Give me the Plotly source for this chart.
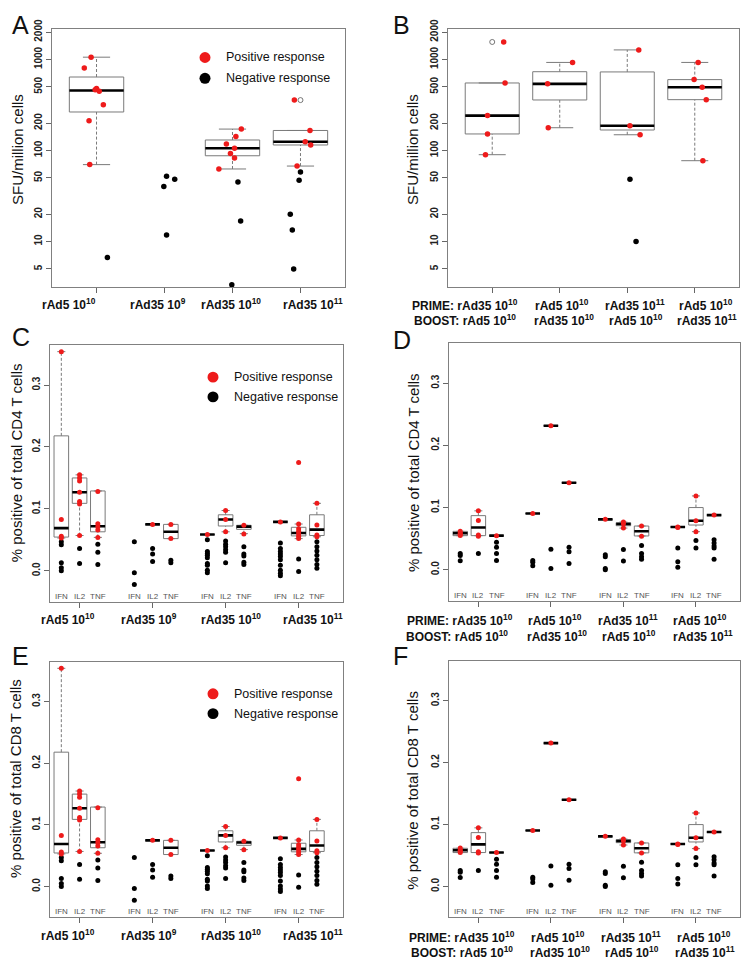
import plotly.graph_objects as go

W, H = 743, 959
RED = "#ee1b1b"
BLK = "#000000"
BOXC = "#7a7a7a"
FONT = "Liberation Sans, Arial, sans-serif"

# ---------------- Panel A : SFU, single immunisation ----------------
A_pos = [[1060, 804, 480, 466, 449, 318, 212, 70], [],
         [172, 143, 118, 106, 92.7, 82.6, 62.7], [358, 166, 125, 115, 67.5]]
A_pos_jit = [[-0.08, -0.18, 0.0, -0.02, 0.04, 0.10, -0.11, -0.10], [],
             [0.13, 0.05, -0.09, 0.03, -0.03, 0.03, -0.20], [-0.09, 0.14, 0.07, 0.15, -0.05]]
A_neg = [[6.7], [52, 48.4, 40.3, 11.8], [45.2, 16.8, 3.35], [58, 47.2, 20, 13.4, 5.0]]
A_neg_jit = [[0.16], [0.03, 0.15, -0.01, 0.03], [0.08, 0.12, -0.01], [0.0, -0.02, -0.15, -0.12, -0.10]]
# whisker low, Q1, median, Q3, whisker high
A_box = [[70, 265, 457, 642, 1060], None, [62.7, 87.6, 106, 130.5, 172], [67.5, 115, 125, 166, 166]]
A_out = [[], [], [], [358]]
A_labels = ["rAd5 10<sup>10</sup>", "rAd35 10<sup>9</sup>", "rAd35 10<sup>10</sup>", "rAd35 10<sup>11</sup>"]

# ---------------- Panel B : SFU, prime/boost ----------------
B_pos = [[1557, 552, 242, 152, 90], [928, 540, 178], [1274, 187, 149], [928, 601, 496, 362, 77.3]]
B_pos_jit = [[0.17, 0.19, -0.07, -0.07, -0.10], [0.19, -0.18, -0.17], [0.17, 0.04, 0.19],
             [0.05, -0.01, 0.11, 0.17, 0.12]]
B_neg = [[], [], [48.4, 10], []]
B_neg_jit = [[], [], [0.04, 0.13], []]
B_box = [[90, 152, 242, 552, 552], [178, 359, 540, 734, 928], [149, 168, 187, 730, 1274],
         [77.3, 362, 496, 601, 928]]
B_out = [[1557], [], [], []]
B_line1 = ["PRIME: rAd35 10<sup>10</sup>", "rAd5 10<sup>10</sup>", "rAd35 10<sup>11</sup>", "rAd5 10<sup>10</sup>"]
B_line2 = ["BOOST: rAd5 10<sup>10</sup>", "rAd35 10<sup>10</sup>", "rAd5 10<sup>10</sup>", "rAd35 10<sup>11</sup>"]

SFU_ticks = [5, 10, 20, 50, 100, 200, 500, 1000, 2000]

# ---------------- Panels C / E : ICS, single immunisation ----------------
cytokines = ["IFN", "IL2", "TNF"]
C_box = [[0.053, 0.0545, 0.069, 0.218, 0.354], [0.057, 0.109, 0.127, 0.150, 0.155],
         [0.054, 0.063, 0.072, 0.129, 0.129],
         None, [0.075, 0.075, 0.075, 0.075, 0.075], [0.052, 0.052, 0.063, 0.075, 0.075],
         [0.0586, 0.0586, 0.0586, 0.0586, 0.0586], [0.063, 0.0724, 0.083, 0.0905, 0.0974],
         [0.060, 0.067, 0.0714, 0.0735, 0.0735],
         [0.079, 0.079, 0.079, 0.079, 0.079], [0.052, 0.0564, 0.0612, 0.0703, 0.0756],
         [0.055, 0.057, 0.0666, 0.0905, 0.109]]
C_pos = [[0.354, 0.083, 0.056, 0.053], [0.155, 0.150, 0.145, 0.127, 0.112, 0.108, 0.057],
         [0.128, 0.076, 0.071, 0.066, 0.054],
         [], [0.075], [0.075, 0.052],
         [0.0586], [0.0974, 0.083, 0.063], [0.0735, 0.0596],
         [0.079], [0.175, 0.0756, 0.068, 0.064, 0.060, 0.056, 0.052], [0.109, 0.074, 0.058, 0.055]]
C_neg = [[0.047, 0.042, 0.013, 0.005, 0.0], [0.036, 0.012], [0.043, 0.030, 0.010],
         [0.047, -0.003, -0.022], [0.036, 0.027, 0.015], [0.017, 0.013],
         [0.050, 0.031, 0.028, 0.025, 0.021, 0.012, 0.009, 0.001, -0.003],
         [0.048, 0.043, 0.039, 0.034, 0.030, 0.013], [0.039, 0.027, 0.024, 0.014, 0.010],
         [0.045, 0.036, 0.031, 0.027, 0.023, 0.018, 0.009, 0.001, -0.004, -0.008],
         [0.019, -0.001], [0.047, 0.039, 0.032, 0.025, 0.018, 0.010, 0.004]]
E_box, E_pos, E_neg = C_box, C_pos, C_neg

# ---------------- Panels D / F : ICS, prime/boost ----------------
D_box = [[0.0548, 0.0548, 0.0586, 0.0617, 0.0617], [0.0548, 0.0548, 0.068, 0.087, 0.0947],
         [0.0548, 0.0548, 0.0548, 0.0548, 0.0548],
         [0.0905] * 5, [0.2316] * 5, [0.140] * 5,
         [0.081] * 5, [0.067, 0.0708, 0.0735, 0.0756, 0.0767], [0.0543, 0.0543, 0.0618, 0.0703, 0.0703],
         [0.0687] * 5, [0.0612, 0.0719, 0.0788, 0.100, 0.1187], [0.0879] * 5]
D_pos = [[0.062, 0.059, 0.057, 0.055], [0.0947, 0.079, 0.056, 0.054], [0.0548],
         [0.0905], [0.2316], [0.140],
         [0.081], [0.0767, 0.074, 0.067], [0.0703, 0.054],
         [0.0687, 0.068], [0.1187, 0.0788, 0.0612], [0.0879]]
D_neg = [[0.026, 0.023, 0.0145], [0.026], [0.044, 0.036, 0.026, 0.015],
         [0.015, 0.012, 0.0065], [0.033, 0.002], [0.036, 0.029, 0.010],
         [0.024, 0.021, 0.002, 0.0], [0.0325, 0.014], [0.039, 0.026, 0.021, 0.017],
         [0.035, 0.013, 0.004], [0.047, 0.035], [0.048, 0.043, 0.038, 0.035, 0.017]]
F_box, F_pos, F_neg = D_box, D_pos, D_neg

ICS_ticks = [0.0, 0.1, 0.2, 0.3]

fig = go.Figure()


def add_boxes(ax, positions, boxes, hw, sw, outs=None):
    xa = "x" if ax == 1 else f"x{ax}"
    ya = "y" if ax == 1 else f"y{ax}"
    bx, by, mx, my, wx, wy, sx, sy, ox, oy = [], [], [], [], [], [], [], [], [], []
    for p, b in zip(positions, boxes):
        if b is None:
            continue
        lo, q1, med, q3, hi = b
        bx += [p - hw, p + hw, p + hw, p - hw, p - hw, None]
        by += [q1, q1, q3, q3, q1, None]
        mx += [p - hw, p + hw, None]
        my += [med, med, None]
        if hi > q3:
            wx += [p, p, None]
            wy += [q3, hi, None]
        if lo < q1:
            wx += [p, p, None]
            wy += [lo, q1, None]
        sx += [p - sw, p + sw, None, p - sw, p + sw, None]
        sy += [hi, hi, None, lo, lo, None]
    if outs:
        for p, o in zip(positions, outs):
            ox += [p] * len(o)
            oy += list(o)
    fig.add_trace(go.Scatter(x=wx, y=wy, mode="lines", xaxis=xa, yaxis=ya,
                             line=dict(color=BOXC, width=1, dash="3px,2px"), hoverinfo="skip"))
    fig.add_trace(go.Scatter(x=sx, y=sy, mode="lines", xaxis=xa, yaxis=ya,
                             line=dict(color=BOXC, width=1), hoverinfo="skip"))
    fig.add_trace(go.Scatter(x=bx, y=by, mode="lines", xaxis=xa, yaxis=ya,
                             line=dict(color=BOXC, width=1), hoverinfo="skip"))
    fig.add_trace(go.Scatter(x=mx, y=my, mode="lines", xaxis=xa, yaxis=ya,
                             line=dict(color=BLK, width=2.6), hoverinfo="skip"))
    if ox:
        fig.add_trace(go.Scatter(x=ox, y=oy, mode="markers", xaxis=xa, yaxis=ya,
                                 marker=dict(symbol="circle-open", size=5, color="#555",
                                             line=dict(width=0.8))))


def add_points(ax, positions, vals, jits, color, size):
    xa = "x" if ax == 1 else f"x{ax}"
    ya = "y" if ax == 1 else f"y{ax}"
    xs, ys = [], []
    for i, (p, v) in enumerate(zip(positions, vals)):
        j = jits[i] if jits else [0] * len(v)
        xs += [p + d for d in j]
        ys += list(v)
    fig.add_trace(go.Scatter(x=xs, y=ys, mode="markers", xaxis=xa, yaxis=ya,
                             marker=dict(color=color, size=size, line=dict(width=0))))


cat_pos = [1, 2, 3, 4]
ics_pos = [4 * g + k + 1 for g in range(4) for k in range(3)]
ics_centers = [4 * g + 2 for g in range(4)]

# A
add_boxes(1, cat_pos, A_box, 0.4, 0.2, A_out)
add_points(1, cat_pos, A_neg, A_neg_jit, BLK, 5.5)
add_points(1, cat_pos, A_pos, A_pos_jit, RED, 5.5)
# B
add_boxes(2, cat_pos, B_box, 0.4, 0.2, B_out)
add_points(2, cat_pos, B_neg, B_neg_jit, BLK, 5.5)
add_points(2, cat_pos, B_pos, B_pos_jit, RED, 5.5)
# C-F
for ax, bx, pv, nv in [(3, C_box, C_pos, C_neg), (4, D_box, D_pos, D_neg),
                       (5, E_box, E_pos, E_neg), (6, F_box, F_pos, F_neg)]:
    add_boxes(ax, ics_pos, bx, 0.4, 0.22)
    add_points(ax, ics_pos, nv, None, BLK, 5)
    add_points(ax, ics_pos, pv, None, RED, 5)

# ---------- axes ----------
def px_x(v):
    return v / W


def px_y(v):
    return 1 - v / H


domains = {
    1: ((52, 345), (19, 280)),
    2: ((448, 739), (19, 280)),
    3: ((50, 343), (339, 598)),
    4: ((449, 740), (337, 597)),
    5: ((50, 343), (659, 917)),
    6: ((449, 740), (658, 917)),
}
layout_axes = {}
for ax, ((x0, x1), (y0, y1)) in domains.items():
    sfx = "" if ax == 1 else str(ax)
    is_sfu = ax in (1, 2)
    layout_axes[f"xaxis{sfx}"] = dict(
        domain=[px_x(x0), px_x(x1)], anchor=f"y{sfx}",
        range=[0.345, 4.655] if is_sfu else [0.38, 16.43],
        showline=True, mirror=True, linecolor="#808080", linewidth=1,
        ticks="outside", ticklen=5, tickcolor="#666", tickwidth=1,
        tickvals=cat_pos if is_sfu else ics_centers, showticklabels=False,
        showgrid=False, zeroline=False, fixedrange=True)
    yd = dict(
        domain=[px_y(y1), px_y(y0)], anchor=f"x{sfx}",
        showline=True, mirror=True, linecolor="#808080", linewidth=1,
        ticks="outside", ticklen=5, tickcolor="#666", tickwidth=1,
        tickangle=-90, tickfont=dict(family=FONT, size=10, color="#222"),
        showgrid=False, zeroline=False, fixedrange=True)
    if is_sfu:
        yd.update(type="log", range=[0.5, 3.337], tickvals=SFU_ticks,
                  ticktext=[f"<b>{t}</b>" for t in SFU_ticks])
    else:
        yd.update(range=[-0.05, 0.364], tickvals=ICS_ticks,
                  ticktext=[f"<b>{t:.1f}</b>" for t in ICS_ticks])
    layout_axes[f"yaxis{sfx}"] = yd

ann = []


def text(t, x, y, size, xanchor="center", yanchor="middle", angle=0, color="#111"):
    ann.append(dict(text=t, x=px_x(x), y=px_y(y), xref="paper", yref="paper",
                    xanchor=xanchor, yanchor=yanchor, showarrow=False, textangle=angle,
                    font=dict(family=FONT, size=size, color=color)))


# panel letters
for L, x, y in [("A", 10, 15), ("B", 391, 15), ("C", 10, 330), ("D", 391, 333),
                ("E", 10, 653), ("F", 391, 653)]:
    text(L, x, y, 25, xanchor="left")

# y titles
text("SFU/million cells", 17, 141.5, 15, angle=-90)
text("SFU/million cells", 412, 141.5, 15, angle=-90)
text("% positive of total CD4 T cells", 16, 458, 15, angle=-90)
text("% positive of total CD4 T cells", 413, 468, 15, angle=-90)
text("% positive of total CD8 T cells", 16, 777, 15, angle=-90)
text("% positive of total CD8 T cells", 413, 789, 15, angle=-90)

# x labels, single immunisation panels
for xs, y in [([68.8, 158, 230.7, 313.3], 297), ([68.3, 148.7, 230.8, 313.3], 615),
              ([68.3, 148.7, 230.8, 313.3], 935)]:
    for lab, x in zip(A_labels, xs):
        text(f"<b>{lab}</b>", x, y, 12)

# x labels, prime / boost panels
for xs1, xs2, y1, y2 in [([465.3, 562, 634.8, 706.3], [465.3, 563.7, 636, 707], 298.3, 313.3),
                         ([459.5, 555.3, 627.8, 700.3], [457, 557, 629, 702.8], 616.7, 632.7),
                         ([462, 558.3, 631.3, 704], [461.7, 559.8, 632.3, 705], 936.7, 951.7)]:
    for lab, x in zip(B_line1, xs1):
        text(f"<b>{lab}</b>", x, y1, 12)
    for lab, x in zip(B_line2, xs2):
        text(f"<b>{lab}</b>", x, y2, 12)

# cytokine labels inside ICS panels
for ax in (3, 4, 5, 6):
    for i, p in enumerate(ics_pos):
        ann.append(dict(text=cytokines[i % 3], x=p, y=0, xref=f"x{ax}", yref=f"y{ax} domain",
                        xanchor="center", yanchor="bottom", showarrow=False, yshift=-1,
                        font=dict(family=FONT, size=8, color="#555")))

# legends
shapes = []
for cx, ys, tx in [(205, (48, 69), 224), (213, (371, 391), 232), (213, (691, 711), 232)]:
    for col, yy, lab in [(RED, ys[0], "Positive response"), (BLK, ys[1], "Negative response")]:
        r = 5.5
        shapes.append(dict(type="circle", xref="paper", yref="paper",
                           x0=px_x(cx - r), x1=px_x(cx + r), y0=px_y(yy + r), y1=px_y(yy - r),
                           fillcolor=col, line=dict(width=0)))
        text(lab, tx, yy, 12.5, xanchor="left")

fig.update_layout(width=W, height=H, margin=dict(l=0, r=0, t=0, b=0),
                  paper_bgcolor="white", plot_bgcolor="white", showlegend=False,
                  annotations=ann, shapes=shapes, font=dict(family=FONT), **layout_axes)

fig.write_html("out.html", config={"displayModeBar": False},
               post_script="document.body.style.margin='0px';"
                           "document.body.style.overflow='hidden';")
